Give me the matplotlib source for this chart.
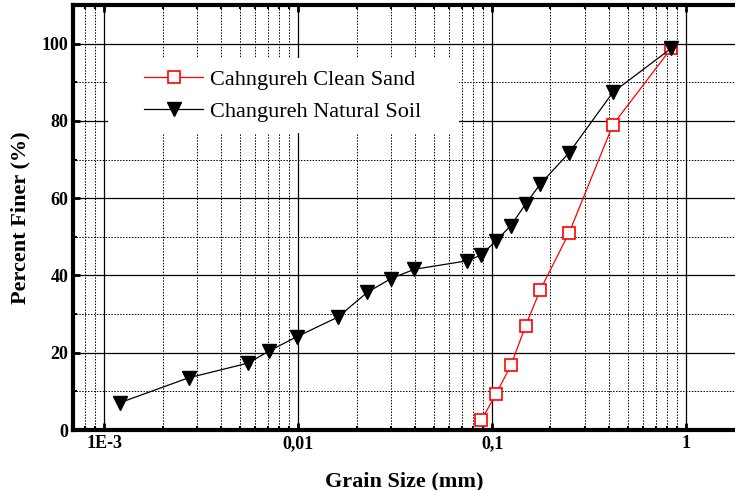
import numpy as np
import matplotlib
matplotlib.use('Agg')
import matplotlib.pyplot as plt
from matplotlib.patches import Rectangle
from matplotlib.ticker import FixedLocator, FixedFormatter, LogLocator, MultipleLocator, NullFormatter

plt.rcParams['font.family'] = ['Liberation Serif', 'DejaVu Serif']

# grain size (mm) and percent finer
sand_d = [0.088, 0.105, 0.125, 0.149, 0.177, 0.25, 0.42, 0.84]
sand_p = [2.5, 9.4, 16.7, 27.0, 36.2, 51.1, 79.0, 98.8]

soil_d = [0.00121, 0.00272, 0.00551, 0.00711, 0.0099, 0.016, 0.0227, 0.0301,
          0.0398, 0.0746, 0.088, 0.105, 0.125, 0.149, 0.177, 0.25, 0.42, 0.84]
soil_p = [7.1, 13.5, 17.3, 20.5, 24.2, 29.2, 35.6, 39.2,
          41.6, 43.8, 45.3, 49.0, 52.9, 58.5, 63.6, 71.8, 87.4, 98.8]

xticks = [1e-3, 1e-2, 1e-1, 1]
xticklabels = ['1E-3', '0,01', '0,1', '1']
yticks = [0, 20, 40, 60, 80, 100]

fig = plt.figure(figsize=(7.35, 4.9), dpi=100)
ax = fig.add_axes([73 / 735, 60 / 490, 1 - 73 / 735, 425 / 490])

ax.set_xscale('log')
ax.set_xlim(0.00069, 1.79)
ax.set_ylim(0, 110)

ax.plot(sand_d, sand_p, '-', color='red', lw=0.9, marker='s', ms=8,
        mfc='white', mec='red', mew=1.2, label='Cahngureh Clean Sand', zorder=3)
ax.plot(soil_d, soil_p, '-', color='black', lw=0.9, marker='v', ms=10,
        mfc='black', mec='black', label='Changureh Natural Soil', zorder=3)

ax.xaxis.set_major_locator(FixedLocator(xticks))
ax.xaxis.set_major_formatter(FixedFormatter(xticklabels))
ax.xaxis.set_minor_locator(LogLocator(base=10, subs=np.arange(2, 10)))
ax.xaxis.set_minor_formatter(NullFormatter())
ax.yaxis.set_major_locator(FixedLocator(yticks))
ax.yaxis.set_minor_locator(MultipleLocator(10))

ax.grid(which='major', color='black', lw=0.9, ls='-')
ax.grid(which='minor', color='black', lw=0.7, ls=(0, (1.5, 1.5)))

ax.tick_params(which='both', direction='in', top=True, right=False)
ax.tick_params(which='major', length=5, width=2)
ax.tick_params(which='minor', length=3, width=1.5)
for sp in ['left', 'bottom', 'top']:
    ax.spines[sp].set_linewidth(3)
ax.spines['right'].set_visible(False)

for lab in ax.get_xticklabels() + ax.get_yticklabels():
    lab.set_fontweight('bold')
    lab.set_fontsize(13)

ax.set_xlabel('Grain Size (mm)', fontsize=16, fontweight='bold', labelpad=14)
ax.set_ylabel('Percent Finer (%)', fontsize=16, fontweight='bold', labelpad=8)

# white patch behind the legend hides the grid there
ax.add_patch(Rectangle((0.053, 0.699), 0.53, 0.176, transform=ax.transAxes,
                       facecolor='white', edgecolor='none', zorder=2))

leg = ax.legend(loc='center left', bbox_to_anchor=(0.108, 0.787),
                frameon=False, fontsize=16, handlelength=2.65,
                handletextpad=0.3, borderpad=0, labelspacing=0.5,
                borderaxespad=0)
leg.set_zorder(5)

fig.savefig('out.png', dpi=100)
